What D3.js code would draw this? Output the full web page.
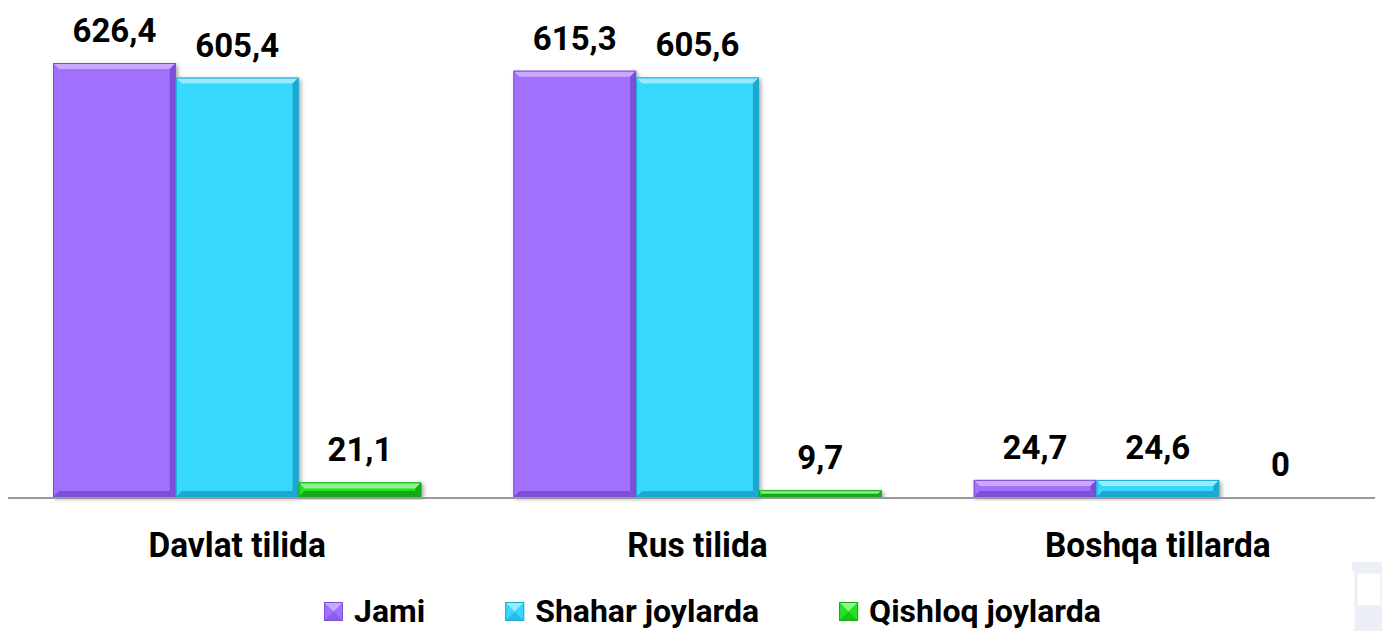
<html>
<head>
    <script src="https://d3js.org/d3.v7.min.js"></script>
    <style>
        body { margin: 0; background: #fff; }
        text { font-family: Roboto, "Liberation Sans", sans-serif; font-weight: bold; fill: #000; }
    </style>
</head>
<body>
<div id="dataviz"></div>

<script>
    // chart data
    var categories = ["Davlat tilida", "Rus tilida", "Boshqa tillarda"]
    var seriesNames = ["Jami", "Shahar joylarda", "Qishloq joylarda"]
    var jami = [626.4, 615.3, 24.7]
    var shahar = [605.4, 605.6, 24.6]
    var qishloq = [21.1, 9.7, 0]

    var seriesValues = [jami, shahar, qishloq]
    var colors = [
        {base: "#a170fe", light: "#caa9ff", dark: "#7c4fd8"},
        {base: "#39d7fd", light: "#96ecff", dark: "#1ea8cf"},
        {base: "#22e322", light: "#8cf58c", dark: "#13a913"}
    ]

    var W = 1382, H = 631

    var svg = d3.select("#dataviz")
        .append("svg")
        .attr("width", W)
        .attr("height", H)

    var defs = svg.append("defs")
    defs.append("filter").attr("id", "shadow")
        .attr("x", "-10%").attr("y", "-10%").attr("width", "130%").attr("height", "130%")
        .append("feDropShadow")
        .attr("dx", 2).attr("dy", 2).attr("stdDeviation", 2)
        .attr("flood-color", "#000").attr("flood-opacity", 0.35)

    // faint logo bits from the background
    var bg = svg.append("g").attr("opacity", 0.35)
    bg.append("rect").attr("x", 1352).attr("y", 562).attr("width", 30).attr("height", 10).attr("fill", "#c9d6e6")
    bg.append("rect").attr("x", 1356).attr("y", 572).attr("width", 26).attr("height", 59).attr("fill", "none")
        .attr("stroke", "#c9d6e6").attr("stroke-width", 3)
    bg.append("rect").attr("x", 1356).attr("y", 605).attr("width", 26).attr("height", 26).attr("fill", "#c9d6e6")

    var x0 = d3.scaleBand()
        .domain(categories)
        .range([7, 1388])
        .paddingInner(0.2)
        .paddingOuter(0.1)

    var x1 = d3.scaleBand()
        .domain(seriesNames)
        .range([0, x0.bandwidth()])

    var y = d3.scaleLinear()
        .domain([0, 700])
        .range([497, 12])

    function fmt(v) {
        return v === 0 ? "0" : String(v).replace(".", ",")
    }

    // bars
    var groups = svg.selectAll("g.cat")
        .data(categories)
        .enter()
        .append("g")
        .attr("class", "cat")
        .attr("transform", function (d) { return "translate(" + x0(d) + ",0)" })

    groups.each(function (cat, ci) {
        var g = d3.select(this)
        seriesNames.forEach(function (s, si) {
            var v = seriesValues[si][ci]
            var bx = x1(s), bw = x1.bandwidth()
            var by = y(v), bh = y(0) - y(v)
            if (bh > 0) {
                var c = colors[si]
                var b = Math.min(6, bh / 2)
                var bar = g.append("g").attr("filter", "url(#shadow)")
                bar.append("rect")
                    .attr("x", bx).attr("y", by)
                    .attr("width", bw).attr("height", bh)
                    .attr("fill", c.base)
                // bevel edges
                var x2 = bx + bw, y2 = by + bh
                bar.append("polygon")
                    .attr("points", [[bx, by], [x2, by], [x2 - b, by + b], [bx + b, by + b]].join(" "))
                    .attr("fill", c.light)
                bar.append("polygon")
                    .attr("points", [[x2, by], [x2, y2], [x2 - b, y2 - b], [x2 - b, by + b]].join(" "))
                    .attr("fill", c.dark)
                bar.append("polygon")
                    .attr("points", [[bx, y2], [x2, y2], [x2 - b, y2 - b], [bx + b, y2 - b]].join(" "))
                    .attr("fill", c.dark)
                bar.append("rect")
                    .attr("x", bx + 0.5).attr("y", by + 0.5)
                    .attr("width", bw - 1).attr("height", bh - 1)
                    .attr("fill", "none").attr("stroke", c.dark).attr("stroke-width", 1)
            }
            g.append("text")
                .attr("x", bx + bw / 2)
                .attr("y", by - 21)
                .attr("text-anchor", "middle")
                .style("font-size", "33px")
                .text(fmt(v))
        })
    })

    // axis line
    svg.append("line")
        .attr("x1", 8).attr("x2", 1375)
        .attr("y1", y(0) + 1).attr("y2", y(0) + 1)
        .attr("stroke", "#999").attr("stroke-width", 2)

    // category labels
    svg.selectAll("text.cat-label")
        .data(categories)
        .enter()
        .append("text")
        .attr("class", "cat-label")
        .attr("transform", function (d) { return "translate(" + (x0(d) + x0.bandwidth() / 2) + ",557) scale(0.93,1)" })
        .attr("text-anchor", "middle")
        .style("font-size", "36px")
        .text(function (d) { return d })

    // legend
    var legend = svg.append("g").attr("transform", "translate(324,0)")
    var lx = 0
    seriesNames.forEach(function (s, si) {
        var c = colors[si]
        var item = legend.append("g").attr("transform", "translate(" + lx + ",0)")
        item.append("rect").attr("x", 0).attr("y", 602).attr("width", 19).attr("height", 19).attr("fill", c.base)
        item.append("polygon").attr("points", "0,602 19,602 9.5,611.5").attr("fill", c.light)
        item.append("polygon").attr("points", "0,621 19,621 9.5,611.5").attr("fill", c.dark).attr("opacity", 0.6)
        item.append("rect").attr("x", 0.5).attr("y", 602.5).attr("width", 18).attr("height", 18)
            .attr("fill", "none").attr("stroke", c.dark)
        var t = item.append("text")
            .attr("x", 30).attr("y", 622)
            .style("font-size", "32px")
            .text(s)
        lx += 30 + t.node().getComputedTextLength() + 80
    })
</script>

</body>
</html>
